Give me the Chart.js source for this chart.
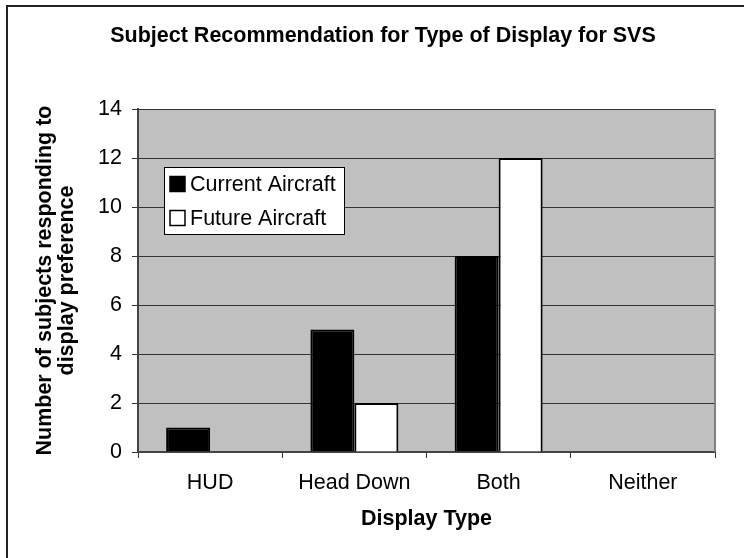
<!DOCTYPE html>
<html>
<head>
<meta charset="utf-8">
<title>Subject Recommendation for Type of Display for SVS</title>
<script src="https://cdn.jsdelivr.net/npm/chart.js@4.4.1/dist/chart.umd.min.js"></script>
<style>
    html, body { margin: 0; padding: 0; background: #fff; }
    #wrap { width: 744px; height: 558px; position: relative; }
</style>
</head>
<body>
<div id="wrap"><canvas id="svsChart" width="744" height="558"></canvas></div>
<script>
const categories = ['HUD', 'Head Down', 'Both', 'Neither'];
const currentAircraft = [1, 5, 8, 0];
const futureAircraft = [0, 2, 12, 0];
const yTicks = [0, 2, 4, 6, 8, 10, 12, 14];

const FONT = "'Liberation Sans', Arial, sans-serif";
const chartTitle = 'Subject Recommendation for Type of Display for SVS';

// gray plot background, frame lines, title and the boxed legend
const framePlugin = {
    id: 'frame',
    beforeDraw(chart) {
        const { ctx, chartArea: a } = chart;
        ctx.save();
        ctx.fillStyle = '#c0c0c0';
        ctx.fillRect(a.left, a.top, a.right - a.left, a.bottom - a.top);
        ctx.restore();
    },
    afterDatasetsDraw(chart) {
        const { ctx, chartArea: a } = chart;
        ctx.save();
        ctx.strokeStyle = '#808080';
        ctx.lineWidth = 2;
        ctx.beginPath();
        ctx.moveTo(a.right, a.top);
        ctx.lineTo(a.right, a.bottom);
        ctx.stroke();
        ctx.restore();
    },
    afterDraw(chart) {
        const ctx = chart.ctx;
        ctx.save();
        // outer border
        ctx.strokeStyle = '#222';
        ctx.lineWidth = 2;
        ctx.beginPath();
        ctx.moveTo(7, 558);
        ctx.lineTo(7, 6);
        ctx.lineTo(744, 6);
        ctx.stroke();

        // title
        ctx.fillStyle = '#000';
        ctx.font = 'bold 21.5px ' + FONT;
        ctx.textAlign = 'center';
        ctx.textBaseline = 'middle';
        ctx.fillText(chartTitle, 383, 36);

        // legend box
        ctx.fillStyle = '#fff';
        ctx.fillRect(164, 167, 180, 67);
        ctx.strokeStyle = '#000';
        ctx.lineWidth = 1;
        ctx.strokeRect(164.5, 167.5, 180, 67);

        ctx.font = '21.5px ' + FONT;
        ctx.textAlign = 'left';
        chart.data.datasets.forEach((ds, i) => {
            const y = 184 + i * 34;
            ctx.fillStyle = ds.backgroundColor;
            ctx.fillRect(170, y - 7.5, 15, 15);
            ctx.strokeStyle = '#000';
            ctx.lineWidth = 1.5;
            ctx.strokeRect(170, y - 7.5, 15, 15);
            ctx.fillStyle = '#000';
            ctx.fillText(ds.label, 190, y + 1);
        });
        ctx.restore();
    }
};

const ctx = document.getElementById('svsChart').getContext('2d');
new Chart(ctx, {
    type: 'bar',
    data: {
        labels: categories,
        datasets: [
            {
                label: 'Current Aircraft',
                data: currentAircraft,
                backgroundColor: '#000000',
                borderColor: '#000000',
                borderWidth: 2
            },
            {
                label: 'Future Aircraft',
                data: futureAircraft,
                backgroundColor: '#ffffff',
                borderColor: '#000000',
                borderWidth: 2
            }
        ]
    },
    options: {
        responsive: false,
        animation: false,
        layout: { padding: { left: 34, top: 109, right: 29, bottom: 27 } },
        datasets: {
            bar: { categoryPercentage: 0.61, barPercentage: 1.0 }
        },
        plugins: {
            legend: { display: false },
            title: { display: false },
            tooltip: { enabled: false }
        },
        scales: {
            x: {
                grid: {
                    display: true,
                    drawOnChartArea: false,
                    drawTicks: true,
                    tickLength: 6,
                    offset: true,
                    color: '#333'
                },
                border: { color: '#444', width: 2 },
                ticks: {
                    color: '#000',
                    padding: 12,
                    font: { family: FONT, size: 21.5 }
                },
                title: {
                    display: true,
                    text: 'Display Type',
                    color: '#000',
                    padding: 0,
                    font: { family: FONT, size: 21.5, weight: 'bold', lineHeight: 1.1 }
                },
                afterFit(scale) { scale.height = 79; }
            },
            y: {
                min: 0,
                max: 14,
                afterBuildTicks(scale) {
                    scale.ticks = yTicks.map(v => ({ value: v }));
                },
                grid: {
                    color: '#333',
                    lineWidth: 1,
                    tickLength: 6
                },
                border: { color: '#444', width: 2 },
                ticks: {
                    color: '#000',
                    padding: 10,
                    font: { family: FONT, size: 21.5 }
                },
                title: {
                    display: true,
                    text: ['Number of subjects responding to', 'display preference'],
                    color: '#000',
                    padding: 0,
                    font: { family: FONT, size: 21.5, weight: 'bold', lineHeight: 1.02 }
                },
                afterFit(scale) { scale.width = 104; }
            }
        }
    },
    plugins: [framePlugin]
});
</script>
</body>
</html>
